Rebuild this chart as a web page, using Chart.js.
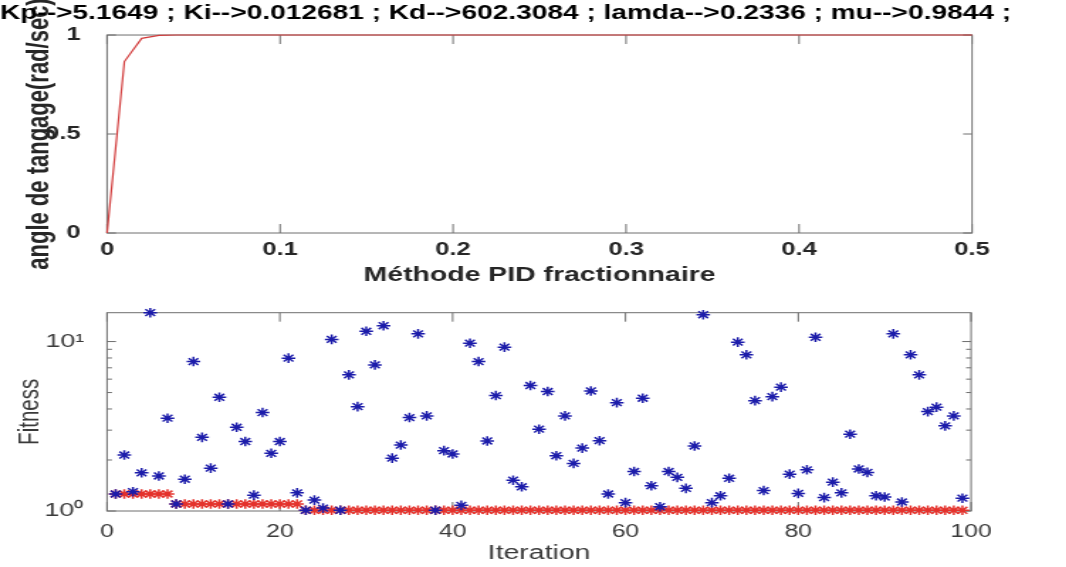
<!DOCTYPE html>
<html>
<head>
<meta charset="utf-8">
<script src="https://cdn.jsdelivr.net/npm/chart.js@4.4.1/dist/chart.umd.min.js"></script>
<style>
  html, body { margin: 0; padding: 0; background: #fff; }
  body { width: 1066px; height: 567px; position: relative; overflow: hidden; }
  canvas { position: absolute; left: 0; }
</style>
</head>
<body>
<!-- the reference is stretched sideways, so each canvas is drawn narrow and widened by css -->
<canvas id="top" width="712" height="290" style="top:0;width:1010.6px;height:290px"></canvas>
<canvas id="bottom" width="751" height="277" style="top:290px;width:1066px;height:277px"></canvas>
<script>
const plotTitle = 'Kp-->5.1649 ; Ki-->0.012681 ; Kd-->602.3084 ; lamda-->0.2336 ; mu-->0.9844 ;';

// step response (top)
const stepTime  = [0, 0.01, 0.02, 0.03, 0.04, 0.1, 0.2, 0.3, 0.4, 0.5];
const stepAngle = [0, 0.866, 0.983, 0.998, 1, 1, 1, 1, 1, 1];
const angleTickValues = [0, 0.5, 1];
const angleTickLabels = ['0', '0.5', '1'];

// fitness per iteration (bottom)
const iterations = [1, 2, 3, 4, 5, 6, 7, 8, 9, 10, 11, 12, 13, 14, 15, 16, 17, 18, 19, 20,
  21, 22, 23, 24, 25, 26, 27, 28, 29, 30, 31, 32, 33, 34, 35, 36, 37, 38, 39, 40,
  41, 42, 43, 44, 45, 46, 47, 48, 49, 50, 51, 52, 53, 54, 55, 56, 57, 58, 59, 60,
  61, 62, 63, 64, 65, 66, 67, 68, 69, 70, 71, 72, 73, 74, 75, 76, 77, 78, 79, 80,
  81, 82, 83, 84, 85, 86, 87, 88, 89, 90, 91, 92, 93, 94, 95, 96, 97, 98, 99];
const fitness = [1.26, 2.14, 1.30, 1.68, 14.8, 1.61, 3.53, 1.10, 1.54, 7.62,
  2.72, 1.79, 4.69, 1.10, 3.12, 2.57, 1.24, 3.81, 2.19, 2.57,
  7.98, 1.28, 1.01, 1.16, 1.04, 10.3, 1.01, 6.36, 4.13, 11.5,
  7.28, 12.4, 2.05, 2.45, 3.56, 11.1, 3.64, 1.01, 2.27, 2.17,
  1.08, 9.78, 7.62, 2.59, 4.80, 9.27, 1.52, 1.39, 5.50, 3.04,
  5.07, 2.12, 3.64, 1.91, 2.35, 5.11, 2.60, 1.26, 4.36, 1.12,
  1.71, 4.63, 1.41, 1.06, 1.71, 1.58, 1.36, 2.42, 14.4, 1.12,
  1.23, 1.56, 9.92, 8.35, 4.48, 1.32, 4.73, 5.38, 1.65, 1.27,
  1.75, 10.6, 1.20, 1.48, 1.28, 2.84, 1.77, 1.69, 1.23, 1.21,
  11.1, 1.13, 8.35, 6.36, 3.86, 4.10, 3.18, 3.64, 1.19];
const bestFitness = [1.26, 1.26, 1.26, 1.26, 1.26, 1.26, 1.26, 1.10, 1.10, 1.10,
  1.10, 1.10, 1.10, 1.10, 1.10, 1.10, 1.10, 1.10, 1.10, 1.10,
  1.10, 1.10, 1.01, 1.01, 1.01, 1.01, 1.01, 1.01, 1.01, 1.01,
  1.01, 1.01, 1.01, 1.01, 1.01, 1.01, 1.01, 1.01, 1.01, 1.01,
  1.01, 1.01, 1.01, 1.01, 1.01, 1.01, 1.01, 1.01, 1.01, 1.01,
  1.01, 1.01, 1.01, 1.01, 1.01, 1.01, 1.01, 1.01, 1.01, 1.01,
  1.01, 1.01, 1.01, 1.01, 1.01, 1.01, 1.01, 1.01, 1.01, 1.01,
  1.01, 1.01, 1.01, 1.01, 1.01, 1.01, 1.01, 1.01, 1.01, 1.01,
  1.01, 1.01, 1.01, 1.01, 1.01, 1.01, 1.01, 1.01, 1.01, 1.01,
  1.01, 1.01, 1.01, 1.01, 1.01, 1.01, 1.01, 1.01, 1.01];
const fitnessTickValues = [1, 10];
const fitnessTickLabels = ['10\u2070', '10\u00b9'];

const FONT = "'Liberation Sans', Arial, Helvetica, sans-serif";
Chart.defaults.font.family = FONT;

// matlab style box with inward ticks on all four sides
const axisBox = {
  id: 'axisBox',
  beforeDatasetsDraw(chart, args, opts) {
    const { ctx, chartArea: a, scales: { x, y } } = chart;
    ctx.save();
    ctx.strokeStyle = opts.color;
    ctx.lineWidth = 1;
    ctx.strokeRect(a.left, a.top, a.right - a.left, a.bottom - a.top);
    ctx.beginPath();
    x.ticks.forEach(t => {
      const px = x.getPixelForValue(t.value);
      ctx.moveTo(px, a.bottom); ctx.lineTo(px, a.bottom - opts.xLen);
      ctx.moveTo(px, a.top); ctx.lineTo(px, a.top + opts.xLen);
    });
    y.ticks.forEach(t => {
      let len = opts.yLen;
      if (y.type === 'logarithmic') {
        const e = Math.log10(t.value);
        const sig = t.value / Math.pow(10, Math.floor(e + 1e-9));
        if (Math.abs(sig - Math.round(sig)) > 1e-6) return;
        if (Math.abs(e - Math.round(e)) > 1e-9) len = opts.yMinorLen;
      }
      const py = y.getPixelForValue(t.value);
      ctx.moveTo(a.left, py); ctx.lineTo(a.left + len, py);
      ctx.moveTo(a.right, py); ctx.lineTo(a.right - len, py);
    });
    ctx.stroke();
    ctx.restore();
  }
};

new Chart(document.getElementById('top'), {
  type: 'line',
  data: {
    datasets: [{
      data: stepTime.map((t, i) => ({ x: t, y: stepAngle[i] })),
      borderColor: '#d23c3c',
      borderWidth: 1.2,
      pointRadius: 0,
      tension: 0,
      clip: false
    }]
  },
  options: {
    responsive: false,
    animation: false,
    layout: { padding: 0 },
    plugins: {
      legend: { display: false },
      tooltip: { enabled: false },
      title: {
        display: true,
        text: plotTitle,
        color: '#000',
        font: { size: 20.6, weight: 'bold' },
        padding: { top: 1, bottom: 9.3 }
      },
      axisBox: { color: '#6e6e6e', xLen: 9, yLen: 6.3, yMinorLen: 3.5 }
    },
    scales: {
      x: {
        type: 'linear', min: 0, max: 0.5,
        grid: { display: false },
        border: { display: false },
        ticks: { stepSize: 0.1, padding: -1.5, maxRotation: 0, color: '#262626', font: { size: 18, weight: 'bold' } },
        title: { display: true, text: 'Méthode PID fractionnaire', color: '#262626', font: { size: 20, weight: 'bold' }, padding: { top: 0, bottom: 2.5 } },
        afterFit: s => { s.height = 57; }
      },
      y: {
        min: 0, max: 1,
        grid: { display: false },
        border: { display: false },
        ticks: {
          stepSize: 0.5, padding: 10.6, color: '#262626', font: { size: 18, weight: 'bold' },
          callback: v => {
            const i = angleTickValues.indexOf(v);
            return i >= 0 ? angleTickLabels[i] : '';
          }
        },
        title: { display: true, text: 'angle de tangage(rad/sec)', color: '#262626', font: { size: 22, weight: 'bold' }, padding: { top: 14.3, bottom: 0 } },
        afterFit: s => { s.width = 75.4; }
      },
      // empty right axis, only keeps the plot narrower than the title box
      yRight: {
        position: 'right', min: 0, max: 1,
        grid: { display: false },
        border: { display: false },
        ticks: { display: false },
        afterFit: s => { s.width = 27.4; }
      }
    }
  },
  plugins: [axisBox]
});

new Chart(document.getElementById('bottom'), {
  type: 'scatter',
  data: {
    datasets: [{
      data: iterations.map((it, i) => ({ x: it, y: fitness[i] })),
      pointStyle: 'star',
      pointRadius: 4.8,
      pointBorderWidth: 1.5,
      borderColor: '#1c1caa',
      backgroundColor: '#1c1caa',
      clip: false
    }, {
      data: iterations.map((it, i) => ({ x: it, y: bestFitness[i] })),
      pointStyle: 'star',
      pointRadius: 4.8,
      pointBorderWidth: 1.5,
      borderColor: '#e4322c',
      backgroundColor: '#e4322c',
      clip: false
    }]
  },
  options: {
    responsive: false,
    animation: false,
    layout: { padding: { left: 0, right: 66.9, top: 22.7, bottom: 0 } },
    plugins: {
      legend: { display: false },
      tooltip: { enabled: false },
      axisBox: { color: '#6e6e6e', xLen: 9, yLen: 6.3, yMinorLen: 3.5 }
    },
    scales: {
      x: {
        type: 'linear', min: 0, max: 100,
        grid: { display: false },
        border: { display: false },
        ticks: { stepSize: 20, padding: 3, maxRotation: 0, color: '#3a3a3a', font: { size: 17.5 } },
        title: { display: true, text: 'Iteration', color: '#3a3a3a', font: { size: 20 }, padding: { top: 0, bottom: 2 } },
        afterFit: s => { s.height = 56; }
      },
      y: {
        type: 'logarithmic', min: 1, max: 14.8,
        grid: { display: false },
        border: { display: false },
        ticks: {
          autoSkip: false, padding: 8, color: '#3a3a3a', font: { size: 19 },
          callback: v => {
            const i = fitnessTickValues.indexOf(v);
            return i >= 0 ? fitnessTickLabels[i] : '';
          }
        },
        title: { display: true, text: 'Fitness', color: '#3a3a3a', font: { size: 20.5 }, padding: { top: 8.8, bottom: 0 } },
        afterFit: s => { s.width = 75.4; }
      }
    }
  },
  plugins: [axisBox]
});
</script>
</body>
</html>
